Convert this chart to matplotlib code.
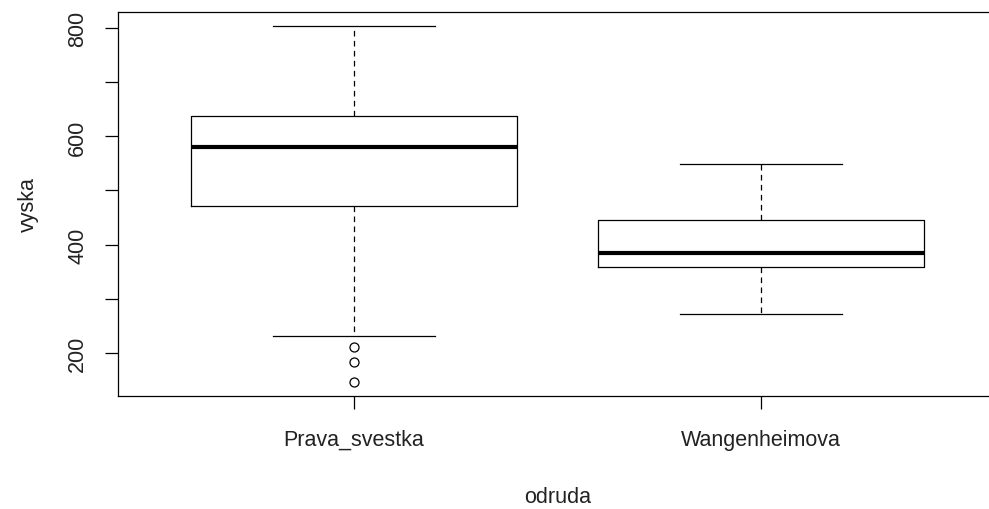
import matplotlib
matplotlib.use("Agg")
import matplotlib.pyplot as plt

plt.rcParams['font.family'] = ['Liberation Sans', 'DejaVu Sans']

# -------- data --------
groups = ["Prava_svestka", "Wangenheimova"]
q1 = [471, 358]
med = [581, 384]
q3 = [638, 445]
whislo = [230, 272]
whishi = [804, 549]
fliers = [[211, 183, 146], []]

stats = [
    {"label": g, "q1": a, "med": m, "q3": b, "whislo": lo, "whishi": hi, "fliers": f}
    for g, a, m, b, lo, hi, f in zip(groups, q1, med, q3, whislo, whishi, fliers)
]

W, H = 989, 510
fig = plt.figure(figsize=(W / 100, H / 100), dpi=100)
left, right, top, bottom = 118, 997, 13, 397
ax = fig.add_axes([left / W, 1 - bottom / H, (right - left) / W, (bottom - top) / H])

ax.bxp(
    stats, positions=[1, 2], widths=0.8, showfliers=True, patch_artist=False,
    boxprops=dict(color="black", linewidth=0.9),
    medianprops=dict(color="black", linewidth=3.0, solid_capstyle="butt"),
    whiskerprops=dict(color="black", linewidth=0.9, linestyle=(0, (4.5, 3.5))),
    capprops=dict(color="black", linewidth=0.9),
    flierprops=dict(marker="o", markerfacecolor="none", markeredgecolor="black",
                    markersize=6.5, markeredgewidth=0.9, linestyle="none"),
    capwidths=0.4,
)

ax.set_xlim(0.42, 2.58)
ax.set_ylim(119.7, 830.3)

ax.set_yticks([200, 300, 400, 500, 600, 700, 800])
ax.set_yticklabels(["200", "", "400", "", "600", "", "800"], rotation=90, va="center")
ax.set_xticks([1, 2])
ax.set_xticklabels(groups)

ax.tick_params(axis="both", direction="out", length=9.5, width=0.9, labelsize=15.5,
               colors="black", labelcolor="#222222")
ax.tick_params(axis="y", pad=12)
ax.tick_params(axis="x", pad=14)

for s in ax.spines.values():
    s.set_linewidth(0.9)

ax.set_xlabel("odruda", fontsize=15.5, color="#222222", labelpad=26)
ax.set_ylabel("vyska", fontsize=15.5, color="#222222", labelpad=20)

fig.savefig("out.png", dpi=100)
